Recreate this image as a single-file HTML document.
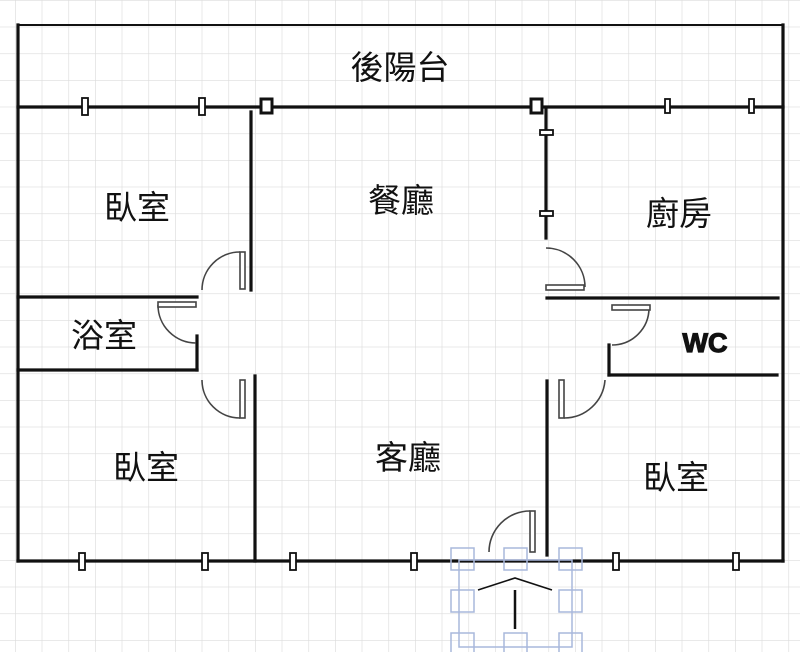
<!DOCTYPE html>
<html><head><meta charset="utf-8"><style>
html,body{margin:0;padding:0;background:#fff;}
svg{display:block;}
text{font-family:"Liberation Sans","Noto Sans CJK TC",sans-serif;fill:#111;}
</style></head><body>
<svg width="800" height="652" viewBox="0 0 800 652" xmlns="http://www.w3.org/2000/svg">
<defs>
<pattern id="g" x="15" y="0" width="26.667" height="26.667" patternUnits="userSpaceOnUse">
<path d="M0 0H26.667M0 0V26.667" stroke="#dcdcdc" stroke-width="1.3" fill="none"/>
</pattern>
</defs>
<rect width="800" height="652" fill="url(#g)"/>
<line x1="18" y1="25" x2="783" y2="25" stroke="#111" stroke-width="2"/>
<g stroke="#111" stroke-width="3.2" fill="none" stroke-linecap="square">
<line x1="18" y1="25" x2="18" y2="561"/>
<line x1="783" y1="25" x2="783" y2="561"/>
<line x1="18" y1="107" x2="783" y2="107"/>
<line x1="18" y1="561" x2="783" y2="561"/>
<line x1="251" y1="112" x2="251" y2="290"/>
<line x1="255" y1="376" x2="255" y2="561"/>
<line x1="18" y1="297" x2="197" y2="297"/>
<line x1="18" y1="370" x2="197" y2="370"/>
<line x1="197" y1="336" x2="197" y2="370"/>
<line x1="546" y1="108" x2="546" y2="238"/>
<line x1="547" y1="298" x2="778" y2="298"/>
<line x1="609" y1="345" x2="609" y2="375"/>
<line x1="609" y1="375" x2="777" y2="375"/>
<line x1="547" y1="381" x2="547" y2="555"/>
</g>
<g stroke="#111" stroke-width="1.8" fill="#fff">
<rect x="82" y="98" width="6" height="17"/>
<rect x="199" y="98" width="6" height="17"/>
<rect x="665" y="99" width="5" height="14"/>
<rect x="749" y="99" width="5" height="14"/>
<rect x="79" y="553" width="6" height="17"/>
<rect x="202" y="553" width="6" height="17"/>
<rect x="290" y="553" width="6" height="17"/>
<rect x="411" y="553" width="6" height="17"/>
<rect x="613" y="553" width="6" height="17"/>
<rect x="733" y="553" width="6" height="17"/>
<rect x="540" y="130" width="13" height="5"/>
<rect x="540" y="211" width="13" height="5"/>
</g>
<g stroke="#111" stroke-width="3" fill="#fff">
<rect x="261" y="99" width="11" height="14"/>
<rect x="531" y="99" width="11" height="14"/>
</g>
<g stroke="#444" stroke-width="1.6" fill="none">
<path d="M240 252 A38 38 0 0 0 202 290"/>
<rect x="240" y="252" width="5" height="37" fill="#fff"/>
<path d="M158 305 A38 38 0 0 0 196 343"/>
<rect x="158" y="302" width="38" height="5" fill="#fff"/>
<path d="M202 380 A38 38 0 0 0 240 418"/>
<rect x="240" y="380" width="5" height="38" fill="#fff"/>
<path d="M546 248 A39 39 0 0 1 585 287"/>
<rect x="546" y="285" width="38" height="5" fill="#fff"/>
<path d="M649 308 A37 37 0 0 1 612 345"/>
<rect x="612" y="305" width="38" height="5" fill="#fff"/>
<path d="M605 380 A41 41 0 0 1 564 418"/>
<rect x="559" y="380" width="5" height="38" fill="#fff"/>
<path d="M530 511 A41 41 0 0 0 489 552"/>
<rect x="530" y="511" width="5" height="41" fill="#fff"/>
</g>
<g stroke="#a9b8dc" stroke-width="1.5" fill="none">
<rect x="459" y="560" width="113" height="87"/>
<rect x="451" y="548" width="23" height="22"/>
<rect x="504" y="548" width="23" height="22"/>
<rect x="559" y="548" width="23" height="22"/>
<rect x="451" y="590" width="23" height="22"/>
<rect x="559" y="590" width="23" height="22"/>
<rect x="451" y="633" width="23" height="22"/>
<rect x="504" y="633" width="23" height="22"/>
<rect x="559" y="633" width="23" height="22"/>
</g>
<g stroke="#111" fill="none">
<path d="M478 590 L515 578 L552 590" stroke-width="1.6"/>
<line x1="515" y1="590" x2="515" y2="629" stroke-width="2.5"/>
</g>
<g font-size="33" text-anchor="middle">
<text x="400" y="79">後陽台</text>
<text x="401" y="212">餐廳</text>
<text x="679" y="225">廚房</text>
<text x="137" y="219">臥室</text>
<text x="104" y="347">浴室</text>
<text x="146" y="479">臥室</text>
<text x="408" y="469">客廳</text>
<text x="676" y="489">臥室</text>
</g>
<text x="705" y="352" font-size="27" font-weight="bold" text-anchor="middle" stroke="#111" stroke-width="1.2">WC</text>
</svg>
</body></html>
